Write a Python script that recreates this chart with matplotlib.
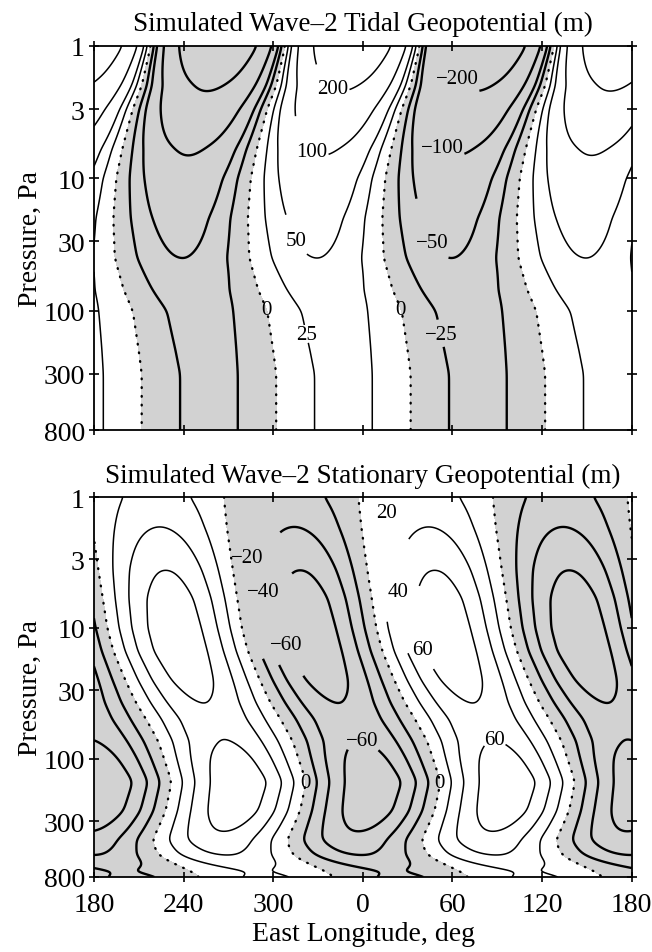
import numpy as np
import matplotlib
matplotlib.use("Agg")
import matplotlib.pyplot as plt

plt.rcParams['font.family'] = ['Liberation Serif', 'DejaVu Serif']
plt.rcParams['axes.unicode_minus'] = True

# ---- wave-2 tidal geopotential: amplitude (m) and trough longitude vs pressure
tide_p = [1, 2, 3, 6, 10, 20, 40, 70, 100, 200, 300, 500, 800]
tide_amp = [325, 210, 165, 105, 82, 63, 50, 40, 35, 33, 32, 32, 32]
tide_trough_lon = [263, 257, 251, 244, 240, 238, 239, 245, 251, 255, 257, 257, 257]
tide_levels = [-200, -100, -50, -25, 0, 25, 50, 100, 200]

# ---- wave-2 stationary geopotential: amplitude (m) and ridge longitude vs pressure
stat_p = [1, 1.7, 3.6, 6, 10, 15, 25, 37, 50, 73, 100, 150, 250, 340, 420, 550, 660, 720, 800]
stat_amp = [28, 40, 60, 70, 74, 74, 68, 60, 56, 60, 68, 76, 72, 62, 54, 40, 25, 17, 25]
stat_ridge_lon = [222, 224, 228, 231, 234, 238, 246, 253, 260, 268, 272, 277, 273, 268, 264,
                  268, 282, 290, 297]
stat_levels = [-60, -40, -20, 0, 20, 40, 60]

lon_ticks = [180, 240, 300, 360, 420, 480, 540]
lon_ticklabels = ['180', '240', '300', '0', '60', '120', '180']
p_ticks = [1, 3, 10, 30, 100, 300, 800]
p_ticklabels = ['1', '3', '10', '30', '100', '300', '800']

# contour label anchors (longitude, pressure) per level
tide_label_pos = {200: [(340, 1.9)], 100: [(326, 5.0)], 50: [(315, 32)], 25: [(324, 151)],
                  0: [(295, 98), (385, 98)], -200: [(423, 1.42)], -100: [(413, 4.8)],
                  -50: [(406, 32)], -25: [(415, 151)]}
stat_label_pos = {-20: [(281, 1.72)], -40: [(289, 4.55)], -60: [(309, 13.9), (359, 86.7)],
                  0: [(324, 152), (415, 152)], 20: [(376, 1.72)], 40: [(381, 4.55)],
                  60: [(400, 13.9), (448, 79)]}

lon = np.linspace(180, 540, 721)
logp = np.linspace(0, np.log10(800), 700)
P = 10 ** logp


def profile(p_pts, vals, sigma=0.03):
    lin = np.interp(logp, np.log10(p_pts), vals)
    dz = logp[1] - logp[0]
    n = int(4 * sigma / dz)
    k = np.exp(-0.5 * (np.arange(-n, n + 1) * dz / sigma) ** 2)
    k /= k.sum()
    padded = np.pad(lin, n, mode='edge')
    return np.convolve(padded, k, mode='valid')


def wave2(p_pts, amp, lon0, sign):
    A = profile(p_pts, amp)[:, None]
    L0 = profile(p_pts, lon0)[:, None]
    return sign * A * np.cos(np.deg2rad(2 * (lon[None, :] - L0)))


tide = wave2(tide_p, tide_amp, tide_trough_lon, -1)
stat = wave2(stat_p, stat_amp, stat_ridge_lon, +1)

FS = 20
fig = plt.figure(figsize=(6.52, 9.53), dpi=100)
ax1 = fig.add_axes([0.144, 0.5477, 0.825, 0.403])
ax2 = fig.add_axes([0.144, 0.0787, 0.825, 0.3987])


def fmt(v):
    return f"{v:.0f}".replace('-', '\u2212')


def draw(ax, field, levels, label_pos, title, title_off):
    ax.contourf(lon, P, field, levels=[-1e5, 0], colors=['#d2d2d2'])
    for lev in levels:
        if lev == 0:
            cs = ax.contour(lon, P, field, levels=[0], colors='black', linewidths=1.7,
                            linestyles=[(0, (0.3, 3.4))])
            cs.set_capstyle('round')
        else:
            cs = ax.contour(lon, P, field, levels=[lev], colors='black',
                            linestyles='solid',
                            linewidths=1.7 if lev < 0 else 1.1)
        if lev in label_pos:
            texts = cs.clabel(manual=label_pos[lev], inline=True, inline_spacing=1,
                              fmt=fmt, fontsize=15)
            for t in texts:
                t.set_rotation(0)
    ax.set_yscale('log')
    ax.set_ylim(800, 1)
    ax.set_xlim(180, 540)
    ax.set_yticks(p_ticks)
    ax.set_yticklabels(p_ticklabels)
    ax.minorticks_off()
    ax.set_xticks(lon_ticks)
    ax.tick_params(direction='inout', length=7, width=1.2, labelsize=FS,
                   top=True, right=True, pad=3)
    ax.tick_params(axis='x', pad=7)
    for s in ax.spines.values():
        s.set_linewidth(1.3)
    ax.annotate(title, xy=(0.5, 1.0), xycoords='axes fraction', xytext=(0, title_off),
                textcoords='offset points', ha='center', va='baseline', fontsize=19.5)


draw(ax1, tide, tide_levels, tide_label_pos,
     'Simulated Wave\u20132 Tidal Geopotential (m)', 11.5)
draw(ax2, stat, stat_levels, stat_label_pos,
     'Simulated Wave\u20132 Stationary Geopotential (m)', 10.5)

ax1.set_xticklabels([])
ax2.set_xticklabels(lon_ticklabels)

fig.text(0.046, 0.7492, 'Pressure, Pa', rotation=90, ha='center', va='center', fontsize=FS)
fig.text(0.046, 0.2781, 'Pressure, Pa', rotation=90, ha='center', va='center', fontsize=FS)
fig.text(363 / 652, 1 - 935 / 953, 'East Longitude, deg', ha='center', va='center', fontsize=FS)

fig.savefig('out.png', dpi=100)
